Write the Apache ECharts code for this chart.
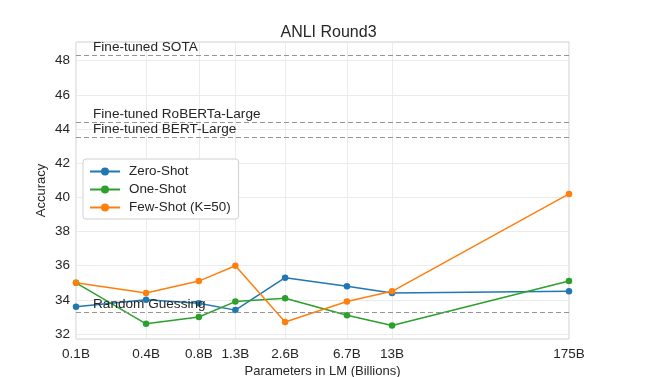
<!DOCTYPE html>
<html>
<head>
<meta charset="utf-8">
<script src="https://cdn.jsdelivr.net/npm/echarts@6/dist/echarts.min.js"></script>
<style>html,body{margin:0;padding:0;background:#fff}#c{width:657px;height:377px}</style>
</head>
<body>
<div id="c"></div>
<script>
// Model sizes (billions of parameters) and their tick labels
const paramsB = [0.125, 0.35, 0.76, 1.3, 2.7, 6.7, 13, 175];
const xTickLabels = ['0.1B', '0.4B', '0.8B', '1.3B', '2.6B', '6.7B', '13B', '175B'];
const yTicks = [32, 34, 36, 38, 40, 42, 44, 46, 48];

const zeroShot = [33.6, 34.0, 33.8, 33.4, 35.3, 34.8, 34.4, 34.5];
const oneShot  = [35.0, 32.6, 33.0, 33.9, 34.1, 33.1, 32.5, 35.1];
const fewShot  = [35.0, 34.4, 35.1, 36.0, 32.7, 33.9, 34.5, 40.2];

const refNames  = ['Fine-tuned SOTA', 'Fine-tuned RoBERTa-Large', 'Fine-tuned BERT-Large', 'Random Guessing'];
const refValues = [48.3, 44.4, 43.5, 33.3];

const font = 'Liberation Sans, Arial, sans-serif';
const txt = '#262626';
const lx = paramsB.map(v => Math.log10(v));
const pairs = arr => arr.map((v, i) => [lx[i], v]);

const chart = echarts.init(document.getElementById('c'), null, {renderer: 'canvas'});
const mkSeries = (name, data, color, extra) => Object.assign({
  name, type: 'line', data: pairs(data), color,
  symbol: 'circle', symbolSize: 6.5,
  lineStyle: {width: 1.5, color}, itemStyle: {color},
  animation: false, z: 3
}, extra || {});

chart.setOption({
  animation: false,
  title: {text: 'ANLI Round3', left: 'center', top: 20, textStyle: {fontFamily: font, fontSize: 16, fontWeight: 'normal', color: txt}},
  grid: {left: 76, right: 88, top: 42, bottom: 38, outerBoundsMode: 'none', containLabel: false,
    show: true, borderColor: '#cfcfcf', borderWidth: 1},
  legend: {
    orient: 'vertical', left: 83, top: 159, padding: [6, 8, 5, 6], itemGap: 5,
    itemWidth: 30, itemHeight: 10,
    backgroundColor: '#fff', borderColor: '#d0d0d0', borderWidth: 1, borderRadius: 3,
    textStyle: {fontFamily: font, fontSize: 13.4, color: txt, padding: [0, 0, 0, 4]},
    data: ['Zero-Shot', 'One-Shot', 'Few-Shot (K=50)']
  },
  xAxis: {
    type: 'value', min: Math.log10(paramsB[0]), max: Math.log10(paramsB[paramsB.length - 1]),
    name: 'Parameters in LM (Billions)', nameLocation: 'middle', nameGap: 26, nameMoveOverlap: false,
    nameTextStyle: {fontFamily: font, fontSize: 13, color: txt},
    axisLine: {show: false}, axisTick: {show: false, customValues: lx},
    axisLabel: {customValues: lx, margin: 8, fontFamily: font, fontSize: 13.5, color: txt,
      formatter: v => { let b = 0; lx.forEach((x, i) => { if (Math.abs(x - v) < Math.abs(lx[b] - v)) b = i; }); return xTickLabels[b]; }},
    splitLine: {show: true, customValues: lx, lineStyle: {color: '#ebebeb', width: 1}}
  },
  yAxis: {
    type: 'value', min: 31.71, max: 49.09,
    name: 'Accuracy', nameLocation: 'middle', nameGap: 28.5, nameMoveOverlap: false,
    nameTextStyle: {fontFamily: font, fontSize: 13, color: txt},
    axisLine: {show: false}, axisTick: {show: false, customValues: yTicks},
    axisLabel: {customValues: yTicks, margin: 6, fontFamily: font, fontSize: 13.5, color: txt},
    splitLine: {show: true, customValues: yTicks, lineStyle: {color: '#ebebeb', width: 1}}
  },
  series: [
    mkSeries('Zero-Shot', zeroShot, '#1f77b4', {
      markLine: {
        silent: true, symbol: 'none', animation: false,
        lineStyle: {type: [5, 3], color: '#959595', width: 1.2},
        label: {show: true, position: 'insideStartTop', distance: [17, 1], formatter: p => p.name,
          fontFamily: font, fontSize: 13.6, color: txt},
        data: refNames.map((n, i) => ({name: n, yAxis: refValues[i]}))
      }
    }),
    mkSeries('One-Shot', oneShot, '#2ca02c'),
    mkSeries('Few-Shot (K=50)', fewShot, '#ff7f0e')
  ]
});
</script>
</body>
</html>
